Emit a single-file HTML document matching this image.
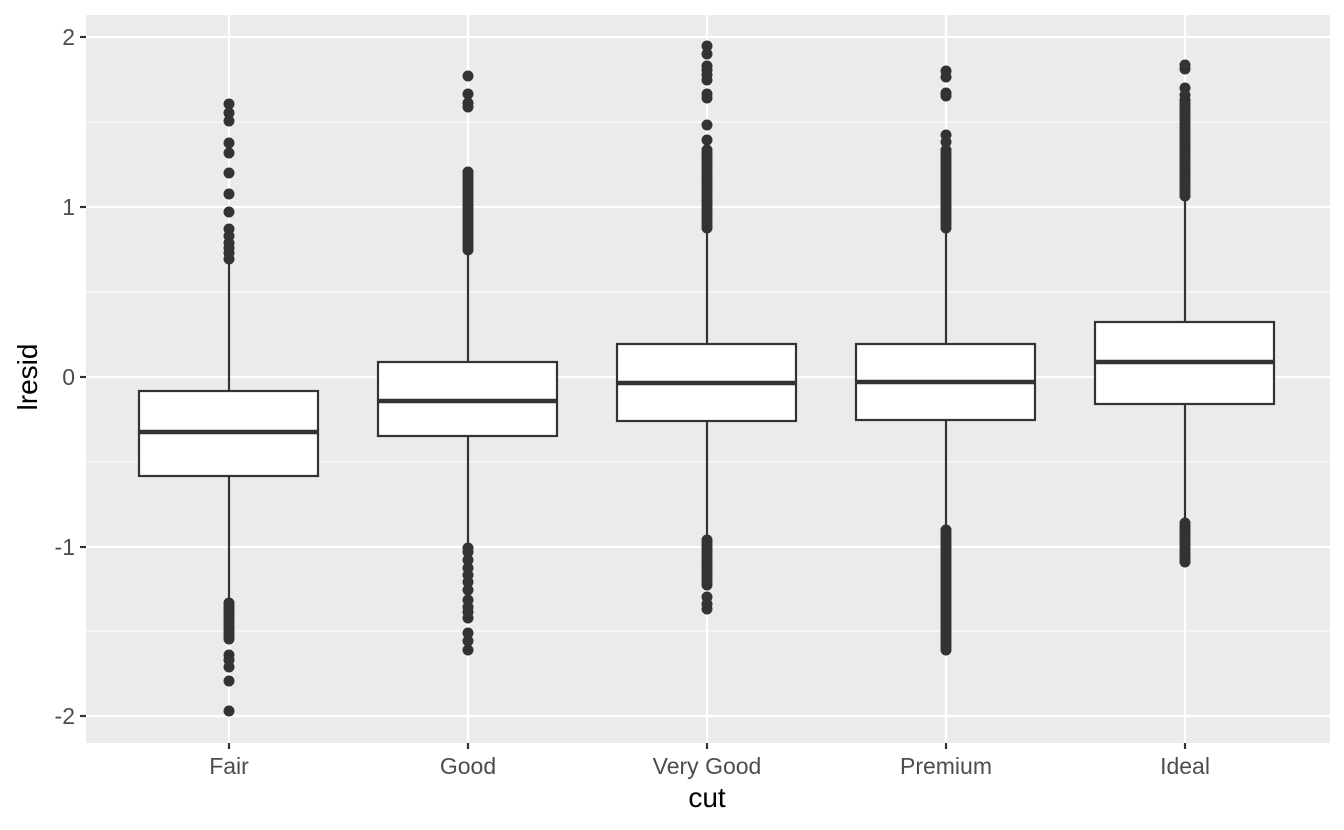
<!DOCTYPE html>
<html><head><meta charset="utf-8"><style>body{margin:0;background:#fff}svg{display:block}</style></head>
<body>
<svg id="s" width="1344" height="830" xmlns="http://www.w3.org/2000/svg" font-family="Liberation Sans, sans-serif">
<rect width="1344" height="830" fill="#fff"/>
<rect x="86" y="15" width="1244" height="728" fill="#ebebeb"/>
<g stroke="#fff" stroke-width="1.1">
<line x1="86" x2="1330" y1="122" y2="122"/><line x1="86" x2="1330" y1="292" y2="292"/>
<line x1="86" x2="1330" y1="462" y2="462"/><line x1="86" x2="1330" y1="631" y2="631"/>
</g>
<g stroke="#fff" stroke-width="2.2">
<line x1="86" x2="1330" y1="37" y2="37"/><line x1="86" x2="1330" y1="207" y2="207"/>
<line x1="86" x2="1330" y1="377" y2="377"/><line x1="86" x2="1330" y1="547" y2="547"/>
<line x1="86" x2="1330" y1="716" y2="716"/>
<line y1="15" y2="743" x1="229" x2="229"/><line y1="15" y2="743" x1="468" x2="468"/>
<line y1="15" y2="743" x1="707" x2="707"/><line y1="15" y2="743" x1="946" x2="946"/>
<line y1="15" y2="743" x1="1185" x2="1185"/>
</g>
<g id="data"></g>
<g stroke="#333" stroke-width="2.2">
<line x1="80" x2="86" y1="37" y2="37"/><line x1="80" x2="86" y1="207" y2="207"/>
<line x1="80" x2="86" y1="377" y2="377"/><line x1="80" x2="86" y1="547" y2="547"/>
<line x1="80" x2="86" y1="716" y2="716"/>
<line y1="743" y2="749" x1="229" x2="229"/><line y1="743" y2="749" x1="468" x2="468"/>
<line y1="743" y2="749" x1="707" x2="707"/><line y1="743" y2="749" x1="946" x2="946"/>
<line y1="743" y2="749" x1="1185" x2="1185"/>
</g>
<g fill="#4d4d4d" font-size="23" text-anchor="end">
<text x="75" y="45">2</text><text x="75" y="215">1</text><text x="75" y="385">0</text>
<text x="75" y="555">-1</text><text x="75" y="724">-2</text>
</g>
<g fill="#4d4d4d" font-size="23" text-anchor="middle">
<text x="229" y="774">Fair</text><text x="468" y="774">Good</text><text x="707" y="774">Very Good</text>
<text x="946" y="774">Premium</text><text x="1185" y="774">Ideal</text>
</g>
<text x="707" y="807" font-size="28" text-anchor="middle">cut</text>
<text transform="translate(37,377) rotate(-90)" font-size="28" text-anchor="middle">lresid</text>
</svg>
<script>
var g=document.getElementById('data'),h='';
var B=[
[229,391,432,476,262,600,[104,113,121,143,153,173,194,212,229,236,243,248,253,259],[[603,640]],[655,660,667,681,711]],
[468,362,401,436,255,545,[76,94,103,107],[[172,252]],[548,552,560,568,575,582,590,600,607,612,618,633,641,650]],
[707,344,383,421,230,535,[46,54,66,70,75,80,94,98,125,140],[[150,228],[540,585]],[597,604,609]],
[946,344,382,420,232,527,[71,77,93,96,135,142],[[150,228],[530,650]],[]],
[1185,322,362,404,200,520,[65,69,88,95],[[100,198],[523,563]],[]]];
B.forEach(function(b){var x=b[0];
h+='<line x1="'+x+'" x2="'+x+'" y1="'+b[4]+'" y2="'+b[1]+'" stroke="#333" stroke-width="2.2"/>';
h+='<line x1="'+x+'" x2="'+x+'" y1="'+b[3]+'" y2="'+b[5]+'" stroke="#333" stroke-width="2.2"/>';
h+='<rect x="'+(x-90)+'" y="'+b[1]+'" width="179" height="'+(b[3]-b[1])+'" fill="#fff" stroke="#333" stroke-width="2.2"/>';
h+='<line x1="'+(x-90)+'" x2="'+(x+89)+'" y1="'+b[2]+'" y2="'+b[2]+'" stroke="#333" stroke-width="4.5"/>';
var pts=b[6].concat(b[8]);
b[7].forEach(function(r){for(var y=r[0];y<=r[1];y+=3)pts.push(y);});
pts.forEach(function(y){h+='<circle cx="'+x+'" cy="'+y+'" r="5.5" fill="#333"/>';});
});
g.innerHTML=h;
</script>
</body></html>
